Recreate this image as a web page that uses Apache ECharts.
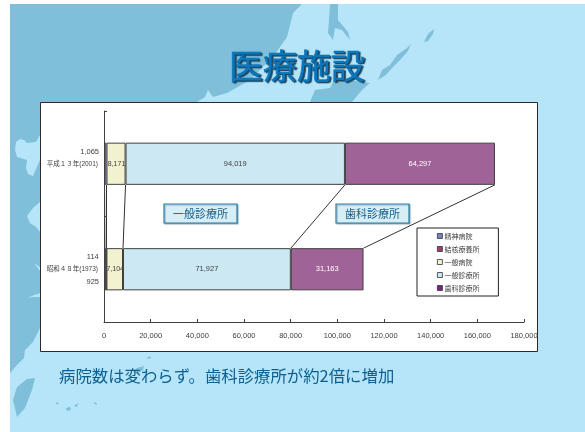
<!DOCTYPE html>
<html>
<head>
<meta charset="utf-8">
<style>html,body{margin:0;padding:0;background:#fff}#c{width:585px;height:432px}</style>
<script src="https://cdn.jsdelivr.net/npm/echarts@6/dist/echarts.min.js"></script>
</head>
<body>
<div id="c"></div>
<script>
// 医療施設数の推移（昭和48年・平成13年）
const years = ['昭和４８年(1973)', '平成１３年(2001)'];
const psychiatric = [925, 1065];
const tuberculosis = [114, null];
const generalHospital = [7104, 8171];
const generalClinic = [71927, 94019];
const dentalClinic = [31163, 64297];
const seriesNames = ['精神病院', '結核療養所', '一般病院', '一般診療所', '歯科診療所'];
const xTicks = { min: 0, max: 180000, interval: 20000 };

const LATIN = '"Liberation Sans","Noto Sans CJK JP",sans-serif';
const CJK = '"Noto Sans CJK JP",sans-serif';
const LAND = '#7fbfd9';
const SEA = '#b6e5fa';
const BORDER = '#404040';

const fmt = v => Number(v).toLocaleString('en-US');

// 地図の背景
const land = pts => ({ type: 'polygon', z: 1, silent: true, shape: { points: pts }, style: { fill: LAND } });
const sea = pts => ({ type: 'polygon', z: 2, silent: true, shape: { points: pts }, style: { fill: SEA } });
const background = [
  { type: 'rect', z: 0, silent: true, shape: { x: 10, y: 4, width: 575, height: 428 }, style: { fill: SEA } },
  land([[10,4],[302,4],[293,13],[287,37],[273,57],[250,80],[227,93],[213,97],[208,90],[205,97],[197,102],[197,200],[60,340],[40,328],[33,342],[25,350],[24,358],[17,365],[10,373]]),
  sea([[16,142],[20,139],[24,140],[27,143],[36,142],[40,135],[40,160],[33,176],[28,174],[26,168],[27,160],[17,157],[15,150]]),
  sea([[41,201],[33,208],[27,216],[30,223],[36,227],[41,233]]),
  sea([[34,263],[41,268],[41,272]]),
  sea([[28,298],[34,295],[41,293],[41,297],[34,297]]),
  land([[35,378],[27,379],[17,387],[13,400],[17,417],[25,408],[32,390]]),
  land([[330,4],[338,4],[338,20],[348,32],[350,40],[342,30],[335,28],[333,40],[328,33],[329,20]]),
  land([[310,102],[315,90],[330,88],[335,78],[370,83],[362,90],[352,102]]),
  land([[378,80],[382,70],[390,65],[397,55],[407,48],[411,44],[408,51],[400,60],[392,68],[386,75]]),
  land([[424,42],[428,34],[434,29],[433,34],[428,41]]),
  land([[56,402],[59,403],[57,405]]),
  land([[66,408],[70,407],[71,410],[67,411]]),
  land([[74,406],[78,403],[77,407]]),
  land([[93,402],[97,403],[96,405]]),
  land([[133,372],[137,368],[144,366],[143,370],[137,374]]),
  land([[146,358],[151,356],[150,359]]),
  land([[150,351],[156,349],[154,352]])
];

// グラフの台紙と見出し
const panel = {
  type: 'rect', z: 3, silent: true,
  shape: { x: 40.5, y: 102.5, width: 497, height: 249 },
  style: { fill: '#fff', stroke: '#2b2b2b', lineWidth: 1 }
};
const title = {
  type: 'text', z: 4, silent: true, x: 229, y: 49,
  style: {
    text: '医療施設', font: '34px ' + CJK, fill: '#0a77bd', stroke: '#0a77bd', lineWidth: 0.7,
    textShadowColor: '#1a3f57', textShadowBlur: 1, textShadowOffsetX: 1.5, textShadowOffsetY: 1.5
  }
};
const caption = {
  type: 'text', z: 4, silent: true, x: 59, y: 368,
  style: { text: '病院数は変わらず。歯科診療所が約2倍に増加', font: '16.4px ' + CJK, fill: '#0c5f8e' }
};
const tag = (label, x) => ({
  type: 'group', z: 20, silent: true, children: [
    { type: 'rect', z: 20, shape: { x: x, y: 204, width: 73, height: 19 },
      style: { fill: '#d7eef6', stroke: '#2f7fa3', lineWidth: 1.2, shadowColor: 'rgba(40,100,130,0.45)', shadowBlur: 1, shadowOffsetX: 1, shadowOffsetY: 1 } },
    { type: 'text', z: 21, x: x + 36.5, y: 213.5,
      style: { text: label, font: '11px ' + CJK, fill: '#17608a', align: 'center', verticalAlign: 'middle' } }
  ]
});

// 積み上げ棒の系列
const barLabel = {
  show: true, position: 'inside', fontFamily: LATIN, fontSize: 7.5, color: '#404040', overflow: 'none',
  formatter: p => fmt(p.value)
};
const barSeries = (name, values, color, label) => ({
  name: name, type: 'bar', stack: 'total', barWidth: '40%', data: values,
  itemStyle: { color: color, borderColor: BORDER, borderWidth: 1 },
  label: Object.assign({}, barLabel, label), z: 3
});
const leftLabel = { position: 'left', distance: 5 };

const series = [
  barSeries(seriesNames[0], psychiatric.map((v, i) => ({
    value: v, label: { offset: [0, i === 0 ? 13 : -12] }
  })), '#7d82c0', leftLabel),
  barSeries(seriesNames[1], tuberculosis.map(v => ({
    value: v, label: { offset: [-2, -12] }
  })), '#9c3f72', Object.assign({}, leftLabel, { formatter: p => p.value == null ? '' : fmt(p.value) })),
  barSeries(seriesNames[2], generalHospital, '#f3f2d0', { fontSize: 7, offset: [0.5, 0] }),
  barSeries(seriesNames[3], generalClinic, '#cce9f3'),
  barSeries(seriesNames[4], dentalClinic, '#a06398', { color: '#fff' })
];

// 年次間を結ぶ区分線
const stacks = [psychiatric, tuberculosis, generalHospital, generalClinic, dentalClinic];
const running = [0, 0];
const boundaries = stacks.map(values => {
  running[0] += values[0] || 0;
  running[1] += values[1] || 0;
  return [running[0], running[1]];
});
series.push({
  type: 'custom', silent: true, z: 4, data: boundaries, encode: { x: 0 },
  renderItem: (params, api) => {
    const band = api.size([0, 1])[1];
    const half = band * 0.2;
    const a = api.coord([api.value(1), 1]);
    const b = api.coord([api.value(0), 0]);
    return {
      type: 'line',
      shape: { x1: a[0], y1: a[1] + half, x2: b[0], y2: b[1] - half },
      style: { stroke: '#333', lineWidth: 1 }
    };
  }
});

const legendColors = ['#7d82c0', '#9c3f72', '#f3f2d0', '#cce9f3', '#7a2183'];

const chart = echarts.init(document.getElementById('c'), null, { renderer: 'canvas' });
chart.setOption({
  animation: false,
  backgroundColor: '#fff',
  grid: { left: 104, top: 111, width: 420, height: 211 },
  xAxis: {
    type: 'value', min: xTicks.min, max: xTicks.max, interval: xTicks.interval, z: 10,
    splitLine: { show: false },
    axisLine: { show: true, lineStyle: { color: BORDER } },
    axisTick: { show: true, inside: true, length: 3, lineStyle: { color: BORDER } },
    axisLabel: { fontFamily: LATIN, fontSize: 7.5, color: '#404040', margin: 10, formatter: v => fmt(v) }
  },
  yAxis: {
    type: 'category', data: years, z: 10,
    axisLine: { show: true, lineStyle: { color: BORDER } },
    axisTick: { show: true, inside: true, length: 3, lineStyle: { color: BORDER } },
    axisLabel: { fontFamily: LATIN, fontSize: 6.5, color: '#404040', margin: 6 }
  },
  legend: {
    orient: 'vertical', left: 417, top: 228, z: 10,
    backgroundColor: '#fff', borderColor: '#222', borderWidth: 1,
    padding: [3, 19, 3, 20], itemWidth: 5, itemHeight: 5, itemGap: 3,
    icon: 'rect', selectedMode: false,
    textStyle: { fontFamily: CJK, fontSize: 7, color: '#404040', padding: [0, 0, 0, -3], lineHeight: 10 },
    data: seriesNames.map((name, i) => ({
      name: name, itemStyle: { color: legendColors[i], borderColor: '#333', borderWidth: 0.8 }
    }))
  },
  graphic: { elements: background.concat([panel, title, caption, tag('一般診療所', 164), tag('歯科診療所', 336)]) },
  series: series
});
</script>
</body>
</html>
